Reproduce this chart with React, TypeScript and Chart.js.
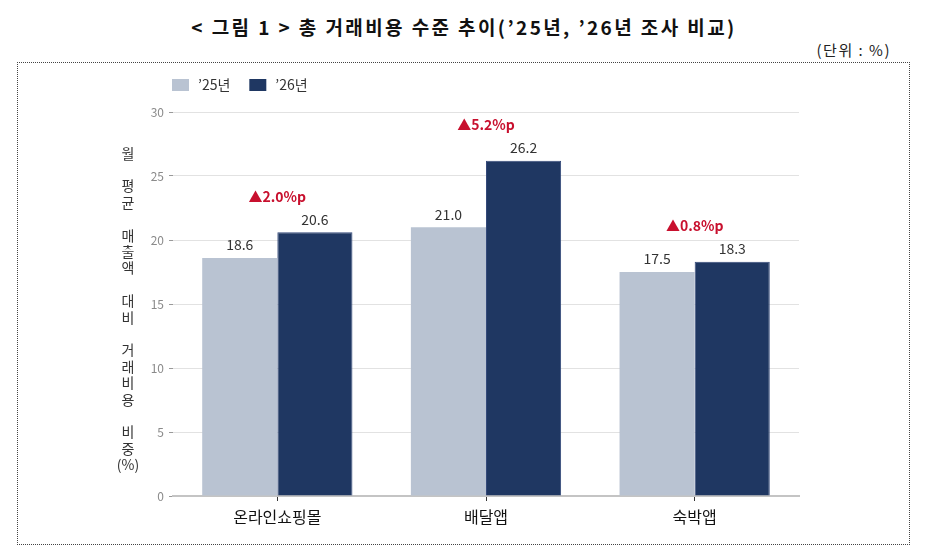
import React, { useEffect, useRef } from 'react';
import { Chart, registerables } from 'chart.js';

Chart.register(...registerables);

const categories = ['온라인쇼핑몰', '배달앱', '숙박앱'];
const seriesNames = ['’25년', '’26년'];
const values25 = [18.6, 21.0, 17.5];
const values26 = [20.6, 26.2, 18.3];
const yTitleLines = ['월', '', '평', '균', '', '매', '출', '액', '', '대', '비', '', '거', '래', '비', '용', '', '비', '중', '(%)'];

const COLORS = ['#b9c3d2', '#1f3762'];
const FONT = '"Noto Sans CJK KR", "Noto Sans", sans-serif';

// value labels, change labels, vertical y title and legend
const overlayPlugin = {
  id: 'overlay',
  afterDatasetsDraw(chart: any) {
    const { ctx, chartArea, scales } = chart;
    const x = scales.x;
    const y = scales.y;
    ctx.save();
    ctx.textAlign = 'center';
    ctx.textBaseline = 'bottom';

    ctx.font = `14px ${FONT}`;
    ctx.fillStyle = '#333';
    chart.data.datasets.forEach((ds: any, di: number) => {
      chart.getDatasetMeta(di).data.forEach((bar: any, i: number) => {
        ctx.fillText(ds.data[i].toFixed(1), bar.x, bar.y - 6);
      });
    });

    ctx.font = `bold 14px ${FONT}`;
    ctx.fillStyle = '#c8102e';
    categories.forEach((_, i) => {
      const diff = values26[i] - values25[i];
      const top = y.getPixelForValue(Math.max(values25[i], values26[i]));
      ctx.fillText('▲' + diff.toFixed(1) + '%p', x.getPixelForValue(i), top - 29);
    });

    ctx.font = `14px ${FONT}`;
    ctx.fillStyle = '#333';
    ctx.textBaseline = 'middle';
    const lh = 16.4;
    const cy = (chartArea.top + chartArea.bottom) / 2 + 5;
    const start = cy - ((yTitleLines.length - 1) * lh) / 2;
    yTitleLines.forEach((t, k) => ctx.fillText(t, 110, start + k * lh));

    ctx.textAlign = 'left';
    let lx = chartArea.left - 1;
    const ly = 22;
    chart.data.datasets.forEach((ds: any) => {
      ctx.fillStyle = ds.backgroundColor;
      ctx.fillRect(lx, ly - 6, 17, 12);
      ctx.fillStyle = '#333';
      ctx.fillText(ds.label, lx + 26, ly);
      lx += 26 + ctx.measureText(ds.label).width + 19;
    });
    ctx.restore();
  },
};

function BarChart() {
  const chartRef = useRef<HTMLCanvasElement>(null);
  const chartInstance = useRef<Chart | null>(null);

  useEffect(() => {
    if (!chartRef.current) return;
    if (chartInstance.current) chartInstance.current.destroy();
    const ctx = chartRef.current.getContext('2d');
    if (!ctx) return;

    chartInstance.current = new Chart(ctx, {
      type: 'bar',
      data: {
        labels: categories,
        datasets: [
          { label: seriesNames[0], data: values25, backgroundColor: COLORS[0] },
          { label: seriesNames[1], data: values26, backgroundColor: COLORS[1], borderColor: '#34497a', borderWidth: 1 },
        ],
      },
      options: {
        responsive: true,
        maintainAspectRatio: false,
        animation: false,
        layout: { padding: { left: 100, right: 110, top: 49, bottom: 0 } },
        datasets: { bar: { categoryPercentage: 0.72, barPercentage: 1 } },
        scales: {
          x: {
            afterFit: (s: any) => { s.height = 48; },
            grid: { display: true, drawOnChartArea: false, drawTicks: true, tickLength: 5, color: '#333', offset: false },
            border: { display: true, color: '#c4c4c4', width: 2 },
            ticks: { color: '#111', padding: 6, font: { family: FONT, size: 16 } },
          },
          y: {
            min: 0,
            max: 30,
            afterFit: (s: any) => { s.width = 55; },
            ticks: { stepSize: 5, color: '#8a8a8a', padding: 5, font: { family: FONT, size: 12 } },
            grid: { color: '#e2e2e2', tickColor: '#999', tickLength: 4 },
            border: { display: false },
          },
        },
        plugins: {
          legend: { display: false },
          tooltip: { enabled: false },
        },
      },
      plugins: [overlayPlugin],
    });

    return () => {
      if (chartInstance.current) {
        chartInstance.current.destroy();
        chartInstance.current = null;
      }
    };
  }, []);

  return <canvas ref={chartRef} />;
}

export default function App() {
  return (
    <div style={{ position: 'absolute', left: 0, top: 0, width: 928, height: 556, background: '#fff', fontFamily: FONT }}>
      <div style={{ position: 'absolute', left: 0, width: 928, top: 15, textAlign: 'center', fontWeight: 'bold', fontSize: 19, letterSpacing: 2.4, color: '#111', lineHeight: '24px' }}>
        {'< 그림 1 > 총 거래비용 수준 추이(’25년, ’26년 조사 비교)'}
      </div>
      <div style={{ position: 'absolute', right: 37, top: 40, fontSize: 15, letterSpacing: 1.5, color: '#222', lineHeight: '20px' }}>
        (단위 : %)
      </div>
      <div style={{ position: 'absolute', left: 17, top: 62, width: 893, height: 483, border: '1px dotted #444', boxSizing: 'border-box' }} />
      <div style={{ position: 'absolute', left: 18, top: 63, width: 891, height: 481 }}>
        <BarChart />
      </div>
    </div>
  );
}
